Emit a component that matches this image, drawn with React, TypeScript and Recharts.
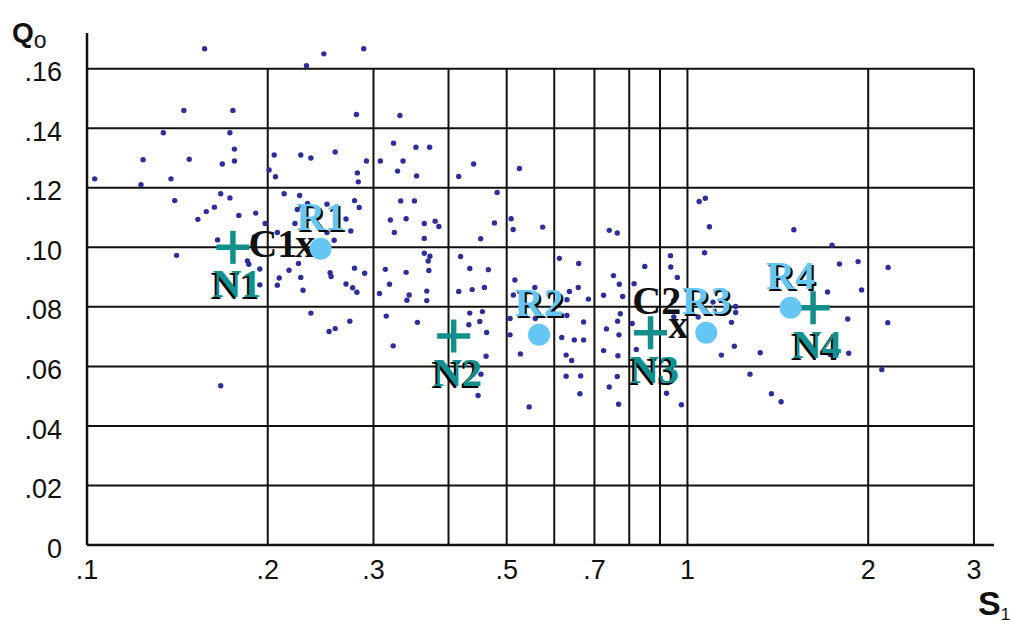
import { ReferenceLine, Scatter, ScatterChart, XAxis, YAxis } from "recharts";

// S1 (log) / Qo values
const dotsA: [number, number][] = [
  [0.157, 0.1667], [0.145, 0.146], [0.175, 0.146], [0.134, 0.1385], [0.173, 0.1385],
  [0.176, 0.133], [0.124, 0.1294], [0.148, 0.1296], [0.168, 0.128], [0.176, 0.129],
  [0.103, 0.123], [0.123, 0.121], [0.138, 0.123], [0.14, 0.1157], [0.167, 0.118],
  [0.173, 0.1166], [0.163, 0.1135], [0.158, 0.112], [0.153, 0.1094], [0.179, 0.1107],
  [0.191, 0.1115], [0.198, 0.108], [0.19, 0.1035], [0.165, 0.1025], [0.141, 0.0973],
  [0.185, 0.0954], [0.186, 0.0943], [0.194, 0.0927], [0.194, 0.0874], [0.167, 0.0535],
];
const dotsB: [number, number][] = [
  [0.248, 0.165], [0.289, 0.1667], [0.232, 0.161], [0.281, 0.1446], [0.205, 0.131],
  [0.227, 0.131], [0.236, 0.13], [0.259, 0.132], [0.292, 0.129], [0.201, 0.126],
  [0.206, 0.1237], [0.282, 0.125], [0.283, 0.122], [0.213, 0.118], [0.226, 0.1174],
  [0.233, 0.1147], [0.251, 0.1145], [0.279, 0.1157], [0.284, 0.1134], [0.222, 0.108],
  [0.2075, 0.105], [0.27, 0.1095], [0.275, 0.1055], [0.258, 0.1024], [0.251, 0.105],
  [0.224, 0.1127], [0.209, 0.0897], [0.2075, 0.0873], [0.217, 0.0923], [0.225, 0.0946],
  [0.227, 0.0899], [0.229, 0.0856], [0.254, 0.0915], [0.255, 0.0902], [0.279, 0.093],
  [0.29, 0.0913], [0.27, 0.0877], [0.277, 0.0864], [0.2815, 0.0849], [0.236, 0.0779],
  [0.253, 0.0717], [0.259, 0.0727], [0.274, 0.0752],
];
const dotsC: [number, number][] = [
  [0.332, 0.1443], [0.324, 0.135], [0.353, 0.1336], [0.372, 0.1336], [0.308, 0.129],
  [0.336, 0.129], [0.329, 0.1256], [0.354, 0.124], [0.333, 0.1156], [0.351, 0.1156],
  [0.32, 0.1092], [0.34, 0.1096], [0.3645, 0.108], [0.38, 0.1088], [0.3855, 0.107],
  [0.325, 0.105], [0.3645, 0.103], [0.3645, 0.098], [0.3725, 0.097], [0.37, 0.0954],
  [0.371, 0.0922], [0.314, 0.0926], [0.34, 0.0916], [0.319, 0.0876], [0.307, 0.0845],
  [0.344, 0.084], [0.341, 0.0822], [0.368, 0.0853], [0.368, 0.0821], [0.315, 0.0769],
  [0.355, 0.0748], [0.3235, 0.0669],
];
const dotsD: [number, number][] = [
  [0.4405, 0.128], [0.416, 0.1238], [0.525, 0.1265], [0.482, 0.1184], [0.477, 0.1082],
  [0.4525, 0.1029], [0.5085, 0.1096], [0.5126, 0.106], [0.574, 0.1068], [0.419, 0.0969],
  [0.434, 0.0929], [0.466, 0.0925], [0.416, 0.0852], [0.438, 0.0858], [0.459, 0.0865],
  [0.516, 0.089], [0.513, 0.084], [0.557, 0.0865], [0.434, 0.0779], [0.4556, 0.0784],
  [0.4325, 0.074], [0.451, 0.0751], [0.463, 0.0714], [0.462, 0.0634], [0.453, 0.0574],
  [0.448, 0.0502], [0.5065, 0.0761], [0.558, 0.0761], [0.5065, 0.0706], [0.527, 0.0642],
  [0.545, 0.0464],
];
const dotsE: [number, number][] = [
  [0.741, 0.1057], [0.764, 0.1048], [0.612, 0.0963], [0.659, 0.0946], [0.636, 0.0852],
  [0.658, 0.0865], [0.63, 0.0824], [0.684, 0.0826], [0.753, 0.0905], [0.77, 0.0876],
  [0.725, 0.0839], [0.78, 0.0835], [0.849, 0.0936], [0.815, 0.0878], [0.63, 0.0771],
  [0.6715, 0.0749], [0.6175, 0.0697], [0.648, 0.0689], [0.6715, 0.0689], [0.628, 0.0638],
  [0.6415, 0.062], [0.628, 0.0567], [0.664, 0.0568], [0.662, 0.0508], [0.773, 0.0777],
  [0.765, 0.0752], [0.733, 0.0726], [0.769, 0.0706], [0.725, 0.0653], [0.766, 0.0636],
  [0.809, 0.0744], [0.822, 0.0657], [0.764, 0.0566], [0.741, 0.0531], [0.768, 0.0473],
  [0.937, 0.0972], [0.938, 0.0934], [0.962, 0.0899], [0.923, 0.051], [0.977, 0.0471],
  [0.949, 0.0821], [0.949, 0.0766],
];
const dotsF: [number, number][] = [
  [1.046, 0.1154], [1.071, 0.1165], [1.088, 0.1069], [1.068, 0.0982], [1.504, 0.1059],
  [1.741, 0.1007], [1.791, 0.0944], [1.924, 0.0952], [2.159, 0.0932], [1.711, 0.085],
  [1.95, 0.0857], [1.103, 0.0816], [1.203, 0.0801], [1.203, 0.0781], [1.042, 0.0766],
  [1.184, 0.0748], [1.849, 0.0759], [2.156, 0.0747], [1.197, 0.0668], [1.139, 0.0638],
  [1.322, 0.0646], [1.728, 0.064], [1.856, 0.0644], [2.107, 0.0589], [1.271, 0.0574],
  [1.38, 0.0508], [1.432, 0.0481],
];

const nodeNames = ["N1", "N2", "N3", "N4"];
const nodeS = [0.175, 0.408, 0.868, 1.619];
const nodeQ = [0.1, 0.0702, 0.0713, 0.0797];

const refNames = ["R1", "R2", "R3", "R4"];
const refS = [0.245, 0.566, 1.075, 1.485];
const refQ = [0.0995, 0.0706, 0.0713, 0.0797];

const centroidNames = ["C1", "C2"];
const centroidS = [0.231, 0.965];
const centroidQ = [0.0995, 0.0723];

const xTicks = [0.1, 0.2, 0.3, 0.5, 0.7, 1, 2, 3];
const xGrid = [0.2, 0.3, 0.4, 0.5, 0.6, 0.7, 0.8, 0.9, 1, 2, 3];
const yTicks = [0, 0.02, 0.04, 0.06, 0.08, 0.1, 0.12, 0.14, 0.16];

const TEAL = "#128f8b";
const SKY = "#66c6f3";
const DOT = "#2e2e98";
const INK = "#111";
const SERIF = '"Liberation Serif", "Times New Roman", serif';
const SANS = '"Liberation Sans", Arial, sans-serif';

const dots = [...dotsA, ...dotsB, ...dotsC, ...dotsD, ...dotsE, ...dotsF].map(([s, q]) => ({ s, q }));
const nodes = nodeNames.map((name, i) => ({ name, s: nodeS[i], q: nodeQ[i] }));
const refs = refNames.map((name, i) => ({ name, s: refS[i], q: refQ[i] }));
const centroids = centroidNames.map((name, i) => ({ name, s: centroidS[i], q: centroidQ[i], idx: i }));

const labelStyle = { fontFamily: SERIF, fontWeight: 700, fontSize: 40 };

const ShadowText = ({ x, y, color, dx, children }: any) => (
  <g style={labelStyle}>
    <text x={x + dx} y={y + 2} textAnchor="middle" fill="#000">{children}</text>
    <text x={x} y={y} textAnchor="middle" fill={color}>{children}</text>
  </g>
);

const Dot = ({ cx, cy }: any) => <circle cx={cx} cy={cy} r={2.7} fill={DOT} />;

const Plus = ({ cx, cy, payload }: any) => (
  <g>
    <line x1={cx - 16.5} x2={cx + 16.5} y1={cy} y2={cy} stroke={TEAL} strokeWidth={5.5} />
    <line x1={cx} x2={cx} y1={cy - 16.5} y2={cy + 16.5} stroke={TEAL} strokeWidth={5.5} />
    <ShadowText x={cx + 4} y={cy + 50} color={TEAL} dx={-2}>{payload.name}</ShadowText>
  </g>
);

const RefDot = ({ cx, cy, payload }: any) => (
  <g>
    <circle cx={cx} cy={cy} r={11} fill={SKY} />
    <ShadowText x={cx} y={cy - 19} color={SKY} dx={2}>{payload.name}</ShadowText>
  </g>
);

const Centroid = ({ cx, cy, payload }: any) => (
  <g style={labelStyle} fill={INK}>
    <text x={cx} y={cy + 8} textAnchor="middle">x</text>
    {payload.idx === 0 ? (
      <text x={cx - 8} y={cy + 8} textAnchor="end">{payload.name}</text>
    ) : (
      <text x={cx + 3} y={cy - 16} textAnchor="end">{payload.name}</text>
    )}
  </g>
);

const QLabel = ({ viewBox }: any) => (
  <text x={viewBox.x + 12} y={viewBox.y + 9} fill={INK} fontFamily={SANS}>
    <tspan fontSize={28} fontWeight={700}>Q</tspan>
    <tspan fontSize={23} dy={6}>o</tspan>
  </text>
);

const SLabel = ({ viewBox }: any) => (
  <text x={viewBox.x + viewBox.width - 16} y={viewBox.y + 70} fill={INK} fontFamily={SANS}>
    <tspan fontSize={34} fontWeight={700}>S</tspan>
    <tspan fontSize={17} dy={5}>1</tspan>
  </text>
);

const fmtX = (v: number) => (v < 1 ? String(v).slice(1) : String(v));
const fmtY = (v: number) => (v === 0 ? "0" : v.toFixed(2).slice(1));

const tickStyle = { fontSize: 27, fill: INK, fontFamily: SANS };

export default function App() {
  return (
    <div style={{ position: "absolute", left: 0, top: 0 }}>
      <ScatterChart width={1010} height={624} margin={{ top: 33, right: 16, bottom: 0, left: 0 }}>
        <XAxis
          type="number"
          dataKey="s"
          scale="log"
          domain={[0.1, 3.24]}
          allowDataOverflow
          ticks={xTicks}
          tickFormatter={fmtX}
          tick={tickStyle}
          tickLine={false}
          tickSize={0}
          tickMargin={15}
          height={79}
          axisLine={{ stroke: INK, strokeWidth: 2.5 }}
          label={{ content: SLabel }}
        />
        <YAxis
          type="number"
          dataKey="q"
          domain={[0, 0.172]}
          allowDataOverflow
          ticks={yTicks}
          tickFormatter={fmtY}
          tick={{ ...tickStyle, dy: 3 }}
          tickLine={false}
          tickSize={0}
          tickMargin={25}
          width={87}
          axisLine={{ stroke: INK, strokeWidth: 2.5 }}
          label={{ content: QLabel }}
        />
        {yTicks.slice(1).map((v) => (
          <ReferenceLine
            key={`h${v}`}
            segment={[{ x: 0.1, y: v }, { x: 3, y: v }]}
            stroke={INK}
            strokeWidth={2}
            ifOverflow="visible"
          />
        ))}
        {xGrid.map((v) => (
          <ReferenceLine
            key={`v${v}`}
            segment={[{ x: v, y: 0 }, { x: v, y: 0.16 }]}
            stroke={INK}
            strokeWidth={2}
            ifOverflow="visible"
          />
        ))}
        <Scatter data={dots} shape={Dot} isAnimationActive={false} />
        <Scatter data={nodes} shape={Plus} isAnimationActive={false} />
        <Scatter data={centroids} shape={Centroid} isAnimationActive={false} />
        <Scatter data={refs} shape={RefDot} isAnimationActive={false} />
      </ScatterChart>
    </div>
  );
}
